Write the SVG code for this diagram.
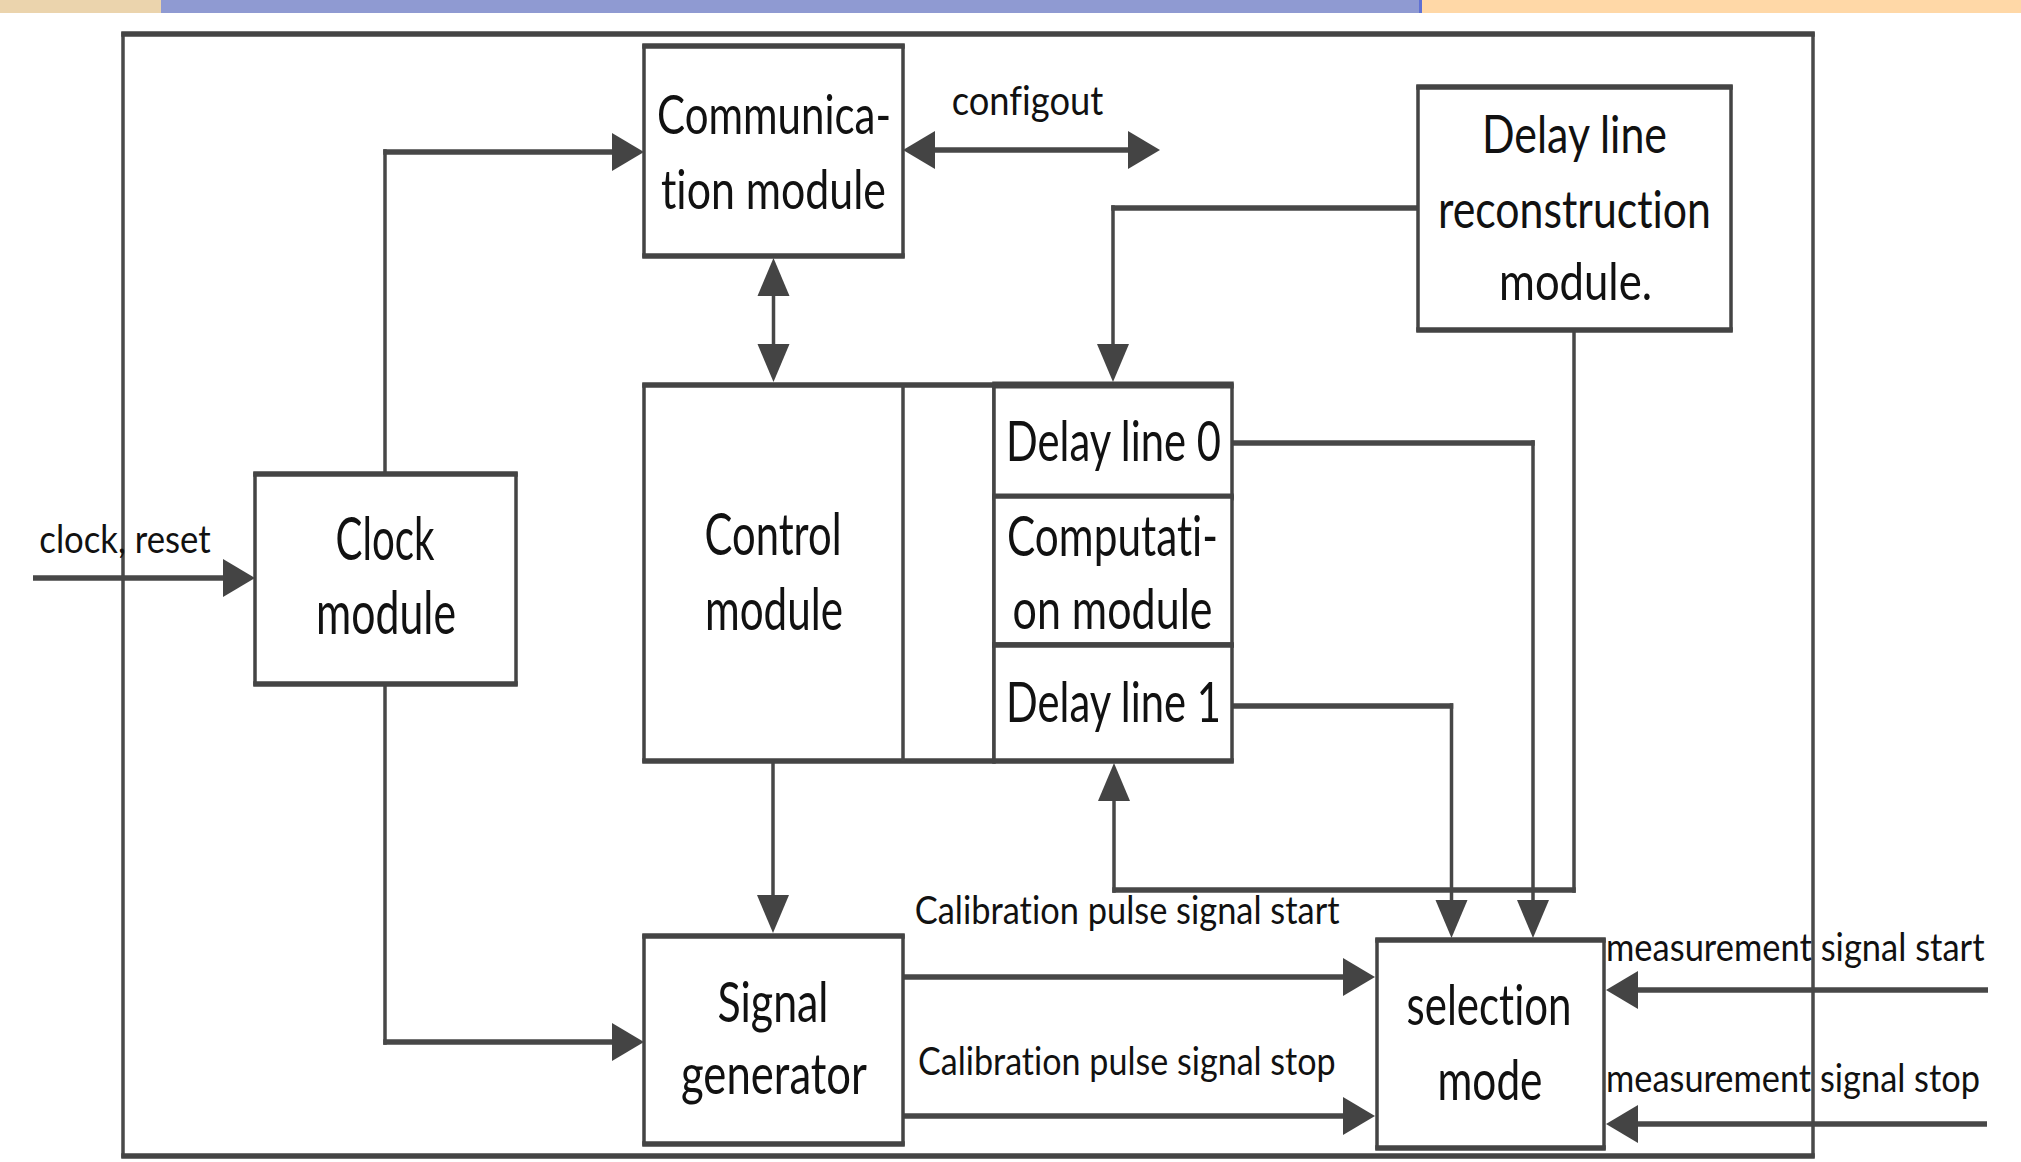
<svg xmlns="http://www.w3.org/2000/svg" width="2021" height="1162" viewBox="0 0 2021 1162">
  <style>
    .box { fill: #ffffff; stroke: #444444; stroke-width: 3.5; }
    .edge { fill: none; stroke: #444444; stroke-width: 5.5; }
    .h { fill: none; stroke: #474747; stroke-width: 5.5; }
    .v { fill: none; stroke: #474747; stroke-width: 3.5; }
    .n { font-family: Lato, "Liberation Sans", sans-serif; fill: #111111; text-anchor: middle; font-variant-ligatures: none; }
    .l { font-family: Lato, "Liberation Sans", sans-serif; fill: #111111; font-size: 38px; font-variant-ligatures: none; }
  </style>
  <defs>
    <marker id="ah" markerUnits="userSpaceOnUse" markerWidth="32" markerHeight="40" viewBox="0 -20 32 40" refX="26" refY="0" orient="auto-start-reverse">
      <path d="M0,-19 L32,0 L0,19 Z" fill="#444444"/>
    </marker>
    <marker id="av" markerUnits="userSpaceOnUse" markerWidth="38" markerHeight="34" viewBox="0 -17 38 34" refX="32" refY="0" orient="auto-start-reverse">
      <path d="M0,-16 L38,0 L0,16 Z" fill="#444444"/>
    </marker>
  </defs>

  <rect width="2021" height="1162" fill="#ffffff"/>

  <!-- slide header strip -->
  <g id="header">
    <rect x="0" y="0" width="161" height="13" fill="#ebd4ad"/>
    <rect x="161" y="0" width="1260" height="13" fill="#8f9ad2"/>
    <rect x="1419" y="0" width="3" height="13" fill="#5f71d4"/>
    <rect x="1422" y="0" width="599" height="13" fill="#ffd8a7"/>
  </g>

  <!-- outer frame -->
  <g id="frame">
    <rect x="123" y="34" width="1690" height="1122" fill="none" stroke="#4a4a4a" stroke-width="3.5"/>
    <path class="edge" d="M121.25,34 H1814.75 M121.25,1156 H1814.75" stroke="#4a4a4a"/>
  </g>

  <!-- connectors -->
  <g id="connectors">
    <path class="h" d="M33,578 H249" marker-end="url(#ah)"/>
    <path class="v" d="M385,474 V149.25"/>
    <path class="h" d="M383.25,152 H638" marker-end="url(#ah)"/>
    <path class="v" d="M385,684 V1044.75"/>
    <path class="h" d="M383.25,1042 H638" marker-end="url(#ah)"/>
    <path class="h" d="M909,150 H1154" marker-start="url(#ah)" marker-end="url(#ah)"/>
    <path class="v" d="M773.5,264 V376" marker-start="url(#av)" marker-end="url(#av)"/>
    <path class="h" d="M1418,208 H1111.25"/>
    <path class="v" d="M1113,205.25 V376" marker-end="url(#av)"/>
    <path class="h" d="M909,573.5 H988" marker-start="url(#ah)" marker-end="url(#ah)"/>
    <path class="h" d="M1232,443 H1534.75"/>
    <path class="v" d="M1533,440.25 V932" marker-end="url(#av)"/>
    <path class="h" d="M1232,706 H1453.25"/>
    <path class="v" d="M1451.5,703.25 V932" marker-end="url(#av)"/>
    <path class="v" d="M1574,330 V892.75"/>
    <path class="h" d="M1575.75,890 H1112.25"/>
    <path class="v" d="M1114,892.75 V769" marker-end="url(#av)"/>
    <path class="v" d="M773,763 V927" marker-end="url(#av)"/>
    <path class="h" d="M903,977 H1369" marker-end="url(#ah)"/>
    <path class="h" d="M903,1116 H1369" marker-end="url(#ah)"/>
    <path class="h" d="M1988,990 H1612" marker-end="url(#ah)"/>
    <path class="h" d="M1987,1124 H1612" marker-end="url(#ah)"/>
  </g>

  <!-- labels on signals -->
  <g id="labels">
    <text class="l" x="951.7" y="115" textLength="151.6" lengthAdjust="spacingAndGlyphs" style="font-size:40px">configout</text>
    <text class="l" x="39.3" y="552.7" textLength="171.4" lengthAdjust="spacingAndGlyphs">clock, reset</text>
    <text class="l" x="914.8" y="924.3" textLength="424.7" lengthAdjust="spacingAndGlyphs">Calibration pulse signal start</text>
    <text class="l" x="918" y="1075" textLength="417.7" lengthAdjust="spacingAndGlyphs">Calibration pulse signal stop</text>
    <text class="l" x="1606" y="961" textLength="378.5" lengthAdjust="spacingAndGlyphs">measurement signal start</text>
    <text class="l" x="1606" y="1091.7" textLength="374" lengthAdjust="spacingAndGlyphs">measurement signal stop</text>
  </g>

  <g id="communication-module">
    <rect class="box" x="644" y="46" width="259" height="210"/>
    <path class="edge" d="M642.25,46 H904.75 M642.25,256 H904.75"/>
    <text class="n" x="774" y="133.5" font-size="55" textLength="234" lengthAdjust="spacingAndGlyphs">Communica-</text>
    <text class="n" x="773.5" y="208.5" font-size="55" textLength="225" lengthAdjust="spacingAndGlyphs">tion module</text>
  </g>

  <g id="delay-line-reconstruction-module">
    <rect class="box" x="1418" y="87" width="313" height="243"/>
    <path class="edge" d="M1416.25,87 H1732.75 M1416.25,330 H1732.75"/>
    <text class="n" x="1574.5" y="153" font-size="53" textLength="185" lengthAdjust="spacingAndGlyphs">Delay line</text>
    <text class="n" x="1574.5" y="227.5" font-size="53" textLength="273" lengthAdjust="spacingAndGlyphs">reconstruction</text>
    <text class="n" x="1575.5" y="300" font-size="53" textLength="153" lengthAdjust="spacingAndGlyphs">module.</text>
  </g>

  <g id="clock-module">
    <rect class="box" x="255" y="474" width="261" height="210"/>
    <path class="edge" d="M253.25,474 H517.75 M253.25,684 H517.75"/>
    <text class="n" x="385" y="560" font-size="60" textLength="99" lengthAdjust="spacingAndGlyphs">Clock</text>
    <text class="n" x="386" y="633.5" font-size="60" textLength="140" lengthAdjust="spacingAndGlyphs">module</text>
  </g>

  <g id="control-module">
    <rect class="box" x="644" y="385" width="350" height="376"/>
    <path class="edge" d="M642.25,385 H995.75 M642.25,761 H995.75"/>
    <path class="v" d="M903,385 V761"/>
    <text class="n" x="773" y="555" font-size="58" textLength="137" lengthAdjust="spacingAndGlyphs">Control</text>
    <text class="n" x="774" y="630" font-size="58" textLength="138" lengthAdjust="spacingAndGlyphs">module</text>
  </g>

  <g id="delay-line-0">
    <rect class="box" x="994" y="385" width="238" height="112"/>
    <path class="edge" d="M992.25,385 H1233.75 M992.25,497 H1233.75" style="stroke-width:7"/>
    <text class="n" x="1113.5" y="461" font-size="57" textLength="215" lengthAdjust="spacingAndGlyphs">Delay line 0</text>
  </g>

  <g id="computation-module">
    <rect class="box" x="994" y="497" width="238" height="148"/>
    <path class="edge" d="M992.25,645 H1233.75"/>
    <text class="n" x="1112.5" y="556" font-size="57" textLength="211" lengthAdjust="spacingAndGlyphs">Computati-</text>
    <text class="n" x="1112.5" y="629" font-size="57" textLength="200" lengthAdjust="spacingAndGlyphs">on module</text>
  </g>

  <g id="delay-line-1">
    <rect class="box" x="994" y="645" width="238" height="116"/>
    <path class="edge" d="M992.25,645 H1233.75 M992.25,761 H1233.75"/>
    <text class="n" x="1113.5" y="722" font-size="57" textLength="215" lengthAdjust="spacingAndGlyphs">Delay line 1</text>
  </g>

  <g id="signal-generator">
    <rect class="box" x="644" y="936" width="259" height="208"/>
    <path class="edge" d="M642.25,936 H904.75 M642.25,1144 H904.75"/>
    <text class="n" x="773" y="1021.7" font-size="56" textLength="111" lengthAdjust="spacingAndGlyphs">Signal</text>
    <text class="n" x="774" y="1094" font-size="56" textLength="186" lengthAdjust="spacingAndGlyphs">generator</text>
  </g>

  <g id="selection-mode">
    <rect class="box" x="1377" y="940" width="227" height="208"/>
    <path class="edge" d="M1375.25,940 H1605.75 M1375.25,1148 H1605.75"/>
    <text class="n" x="1489" y="1025" font-size="57" textLength="165" lengthAdjust="spacingAndGlyphs">selection</text>
    <text class="n" x="1490" y="1100" font-size="57" textLength="105" lengthAdjust="spacingAndGlyphs">mode</text>
  </g>
</svg>
